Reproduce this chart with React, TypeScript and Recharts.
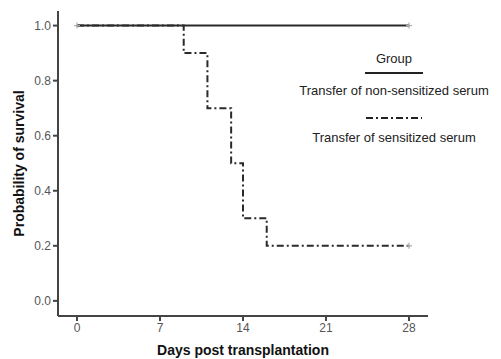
import React from 'react';
import {
  ComposedChart,
  Line,
  Scatter,
  XAxis,
  YAxis,
} from 'recharts';

const days = [0, 7, 14, 21, 28];
const probTicks = [0, 0.2, 0.4, 0.6, 0.8, 1.0];

const nonSensitized = [
  { day: 0, p: 1.0 },
  { day: 28, p: 1.0 },
];

const sensitized = [
  { day: 0, p: 1.0 },
  { day: 9, p: 0.9 },
  { day: 11, p: 0.7 },
  { day: 13, p: 0.5 },
  { day: 14, p: 0.3 },
  { day: 16, p: 0.2 },
  { day: 28, p: 0.2 },
];

const censored = [
  { day: 0, p: 1.0 },
  { day: 28, p: 1.0 },
  { day: 28, p: 0.2 },
];

const FONT = '"Liberation Sans", Arial, sans-serif';
const DASH = '7 3 2 3';

const Plus = (props: any) => {
  const { cx, cy } = props;
  return (
    <g stroke="#aaa" strokeWidth={1.2}>
      <line x1={cx - 3} y1={cy} x2={cx + 3} y2={cy} />
      <line x1={cx} y1={cy - 3} x2={cx} y2={cy + 3} />
    </g>
  );
};

// legend drawn as an overlay so it doesn't take space from the plot
const GroupLegend = () => (
  <svg
    width={206}
    height={110}
    style={{ position: 'absolute', left: 291, top: 44, fontFamily: FONT, fontSize: 13 }}
  >
    <text x={103} y={19} textAnchor="middle" fill="#222">Group</text>
    <line x1={74} y1={29} x2={132} y2={29} stroke="#222" strokeWidth={2} />
    <text x={103} y={51} textAnchor="middle" fill="#222">Transfer of non-sensitized serum</text>
    <line x1={75} y1={74} x2={131} y2={74} stroke="#222" strokeWidth={2} strokeDasharray={DASH} />
    <text x={103} y={98} textAnchor="middle" fill="#222">Transfer of sensitized serum</text>
  </svg>
);

export default function App() {
  return (
    <div style={{ position: 'absolute', left: 0, top: 0, background: '#fff' }}>
      <ComposedChart
        width={501}
        height={359}
        margin={{ top: 11, right: 73, bottom: 0, left: 0 }}
      >
        <XAxis
          dataKey="day"
          type="number"
          domain={[-1.6, 29.6]}
          ticks={days}
          allowDuplicatedCategory={false}
          height={43}
          stroke="#444"
          strokeWidth={2}
          tickSize={5}
          tick={{ fill: '#555', fontSize: 12, fontFamily: FONT }}
          label={{
            value: 'Days post transplantation',
            position: 'insideBottom',
            offset: 4,
            style: { fontFamily: FONT, fontSize: 14, fontWeight: 'bold', fill: '#111' },
          }}
        />
        <YAxis
          dataKey="p"
          type="number"
          domain={[-0.055, 1.053]}
          ticks={probTicks}
          width={58}
          stroke="#444"
          strokeWidth={2}
          tickSize={5}
          tickFormatter={(v: number) => v.toFixed(1)}
          tick={{ fill: '#555', fontSize: 12, fontFamily: FONT }}
          label={{
            value: 'Probability of survival',
            angle: -90,
            position: 'insideLeft',
            offset: 19,
            style: {
              fontFamily: FONT,
              fontSize: 14,
              fontWeight: 'bold',
              fill: '#111',
              textAnchor: 'middle',
            },
          }}
        />
        <Line
          data={nonSensitized}
          dataKey="p"
          type="stepAfter"
          stroke="#2a2a2a"
          strokeWidth={2}
          dot={false}
          isAnimationActive={false}
        />
        <Line
          data={sensitized}
          dataKey="p"
          type="stepAfter"
          stroke="#2a2a2a"
          strokeWidth={2}
          strokeDasharray={DASH}
          dot={false}
          isAnimationActive={false}
        />
        <Scatter
          data={censored}
          dataKey="p"
          shape={Plus}
          isAnimationActive={false}
        />
      </ComposedChart>
      <GroupLegend />
    </div>
  );
}
